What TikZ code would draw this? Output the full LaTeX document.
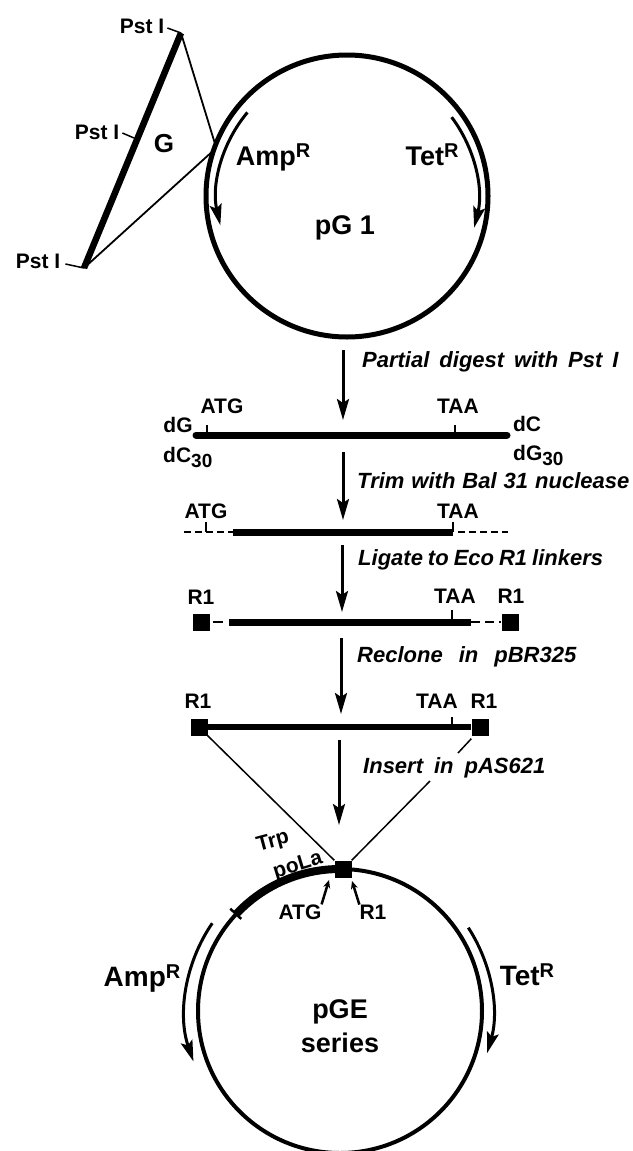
\documentclass[tikz,border=0pt]{standalone}
\usepackage{fontspec}
\setmainfont{Liberation Sans}
\usetikzlibrary{arrows.meta, calc}
\newcommand{\supr}{\raisebox{8pt}{\fontsize{20}{20}\selectfont R}}
\newcommand{\subn}[1]{\raisebox{-5pt}{\fontsize{19}{19}\selectfont #1}}

\begin{document}
\begin{tikzpicture}[
        x=1pt, y=-1pt,
        >={Stealth[length=21pt, width=12pt, inset=4pt]},
        font=\fontsize{21}{23}\selectfont\bfseries,
        plasmid/.style={circle, draw=black, line width=5pt, inner sep=0pt, fill=none},
        lbl/.style={inner sep=0pt, align=center},
        biglbl/.style={inner sep=0pt, align=center, font=\fontsize{26}{28}\selectfont\bfseries},
        steplbl/.style={inner sep=0pt, anchor=west, font=\fontsize{22}{24}\selectfont\bfseries\itshape},
        flow/.style={->, draw=black, line width=3pt},
        gene/.style={->, draw=black, line width=3pt},
        thin/.style={draw=black, line width=1.8pt},
        thinner/.style={draw=black, line width=1.5pt},
        bar/.style={draw=black, line width=7pt, line cap=round},
        dashbar/.style={draw=black, line width=2.6pt, dash pattern=on 7pt off 4pt},
        tick/.style={draw=black, line width=1.5pt},
        site/.style={rectangle, fill=black, inner sep=0pt, minimum size=17pt},
        pointer/.style={{Stealth[length=8pt, width=7pt]}-, draw=black, line width=2.5pt}
    ]
    \path[use as bounding box, clip] (0,0) rectangle (632,1151);

    % Parent plasmid and G insert
    \node[plasmid, minimum size=282pt] (pgone) at (347,196) {};
    \node[biglbl, font=\fontsize{27}{28}\selectfont\bfseries] (pgonelbl) at (345,228) {pG 1};
    \node[biglbl, anchor=base, font=\fontsize{27}{28}\selectfont\bfseries] (ampone) at (273,165) {Amp\supr};
    \node[biglbl, anchor=base, font=\fontsize{27}{28}\selectfont\bfseries] (tetone) at (432,165) {Tet\supr};

    \coordinate (gtop) at (181,33);
    \coordinate (gbot) at (84,268);
    \coordinate (gmid) at (134,138);
    \coordinate (gjoina) at (216,147);
    \coordinate (gjoinb) at (214,150);
    \node[lbl] (psttop) at (142,26) {Pst I};
    \node[lbl] (pstmid) at (97,132) {Pst I};
    \node[lbl] (pstbot) at (38,261) {Pst I};
    \node[biglbl] (glbl) at (164,144) {G};

    \draw[bar, line width=6.5pt, line cap=butt] (gtop) -- (gbot);
    \draw[thin] (gtop) -- (gjoina);
    \draw[thin] (gbot) -- (gjoinb);
    \draw[tick] (psttop.east) ++(3,2) coordinate (ptop) -- (gtop);
    \draw[tick] (pstmid.east) ++(3,1) coordinate (pmid) -- (gmid);
    \draw[tick] (pstbot.east) ++(5,3) coordinate (pbot) -- (gbot);

    \draw[gene] ($(pgone.center)+(140:130pt)$) arc[start angle=140, end angle=193, radius=130pt];
    \draw[gene] ($(pgone.center)+(37:131pt)$) arc[start angle=37, end angle=-14, radius=131pt];

    % Fragment rows
    \coordinate (rowa) at (196,435);
    \coordinate (rowb) at (507,435);
    \draw[bar] (rowa) -- (rowb);
    \node[lbl] (atga) at (222,406) {ATG};
    \node[lbl] (taaa) at (458,406) {TAA};
    \node[lbl] (dga) at (178,425) {dG};
    \node[lbl] (dca) at (527,424) {dC};
    \node[lbl, anchor=base west] (dcb) at (163,462) {dC\subn{30}};
    \node[lbl, anchor=base west] (dgb) at (513,460) {dG\subn{30}};
    \coordinate (ticka) at (207,425);
    \coordinate (tickb) at (455,425);
    \draw[tick] (ticka) -- (ticka |- rowa);
    \draw[tick] (tickb) -- (tickb |- rowb);

    \coordinate (rowc) at (184,532);
    \coordinate (rowd) at (233,532);
    \coordinate (rowe) at (453,532);
    \coordinate (rowf) at (458,532);
    \coordinate (rowg) at (508,532);
    \draw[dashbar] (rowc) -- (rowd);
    \draw[bar, line cap=butt] (rowd) -- (rowe);
    \draw[dashbar] (rowf) -- (rowg);
    \node[lbl] (atgb) at (206,511) {ATG};
    \node[lbl] (taab) at (458,511) {TAA};
    \coordinate (tickc) at (206,522);
    \coordinate (tickd) at (453,522);
    \draw[tick] (tickc) -- (tickc |- rowc);
    \draw[tick] (tickd) -- (tickd |- rowe);

    \node[site] (sitea) at (201,622) {};
    \node[site] (siteb) at (510,622) {};
    \coordinate (rowh) at (229,622);
    \coordinate (rowi) at (471,622);
    \draw[bar, line cap=butt] (rowh) -- (rowi);
    \draw[dashbar, dash pattern=on 10pt off 5pt] (sitea.east) ++(3,0) coordinate (rowj) -- ++(10,0) coordinate (rowk);
    \draw[dashbar, dash pattern=on 9pt off 5pt] (rowi) -- (siteb.west);
    \node[lbl] (rone) at (201,597) {R1};
    \node[lbl] (rtwo) at (511,596) {R1};
    \node[lbl] (taac) at (455,596) {TAA};
    \coordinate (ticke) at (452,610);
    \draw[tick] (ticke) -- (ticke |- rowh);

    \node[site] (sitec) at (199,727) {};
    \node[site] (sited) at (480,727) {};
    \draw[bar, line width=6pt, line cap=butt] (sitec) -- (sited);
    \node[lbl] (rthree) at (198,701) {R1};
    \node[lbl] (rfour) at (484,701) {R1};
    \node[lbl] (taad) at (437,701) {TAA};
    \coordinate (tickf) at (452,717);
    \draw[tick] (tickf) -- (tickf |- sited);

    % Expression plasmid
    \node[plasmid, minimum size=284pt, line width=4pt] (pge) at (340,1011) {};
    \node[site] (sitee) at (343,869) {};
    \draw[draw=black, line width=8pt] ($(pge.center)+(137:142pt)$) arc[start angle=137, end angle=90, radius=142pt];
    \draw[tick, line width=2.5pt] ($(pge.center)+(137:135pt)$) coordinate (pa) -- ($(pge.center)+(137:150pt)$) coordinate (pb);
    \node[biglbl, anchor=base, font=\fontsize{28}{28}\selectfont\bfseries] (amptwo) at (142,986) {Amp\supr};
    \node[biglbl, anchor=base, font=\fontsize{28}{28}\selectfont\bfseries] (tettwo) at (527,985) {Tet\supr};
    \node[biglbl, font=\fontsize{27}{28}\selectfont\bfseries] (pgelbl) at (340,1012) {pGE};
    \node[biglbl, font=\fontsize{27}{28}\selectfont\bfseries] (serieslbl) at (340,1043) {series};
    \node[lbl] (atgc) at (300,912) {ATG};
    \node[lbl] (rfive) at (373,912) {R1};
    \node[lbl, rotate=15] (trp) at (273,842) {Trp};
    \node[lbl, rotate=17] (pola) at (298,866) {poLa};
    \draw[pointer] (329,880) coordinate (patg) -- (atgc.north east);
    \draw[pointer] (352,881) coordinate (pone) -- (rfive.north west);

    \draw[gene] ($(pge.center)+(145.5:155pt)$) arc[start angle=145.5, end angle=199, radius=155pt];
    \draw[gene] ($(pge.center)+(33:153pt)$) arc[start angle=33, end angle=-16, radius=153pt];

    % Insertion lines
    \coordinate (breaka) at (458,753);
    \coordinate (breakb) at (430,781);
    \draw[thinner] (sitec.south east) -- (sitee.north west);
    \draw[thinner] (sited.south west) ++(0,3) coordinate (breakc) -- (breaka);
    \draw[thinner] (breakb) -- (sitee.north east);

    % Steps
    \coordinate (sa) at (343,350); \coordinate (ea) at (343,420);
    \coordinate (sb) at (343,452); \coordinate (eb) at (343,520);
    \coordinate (sc) at (342,545); \coordinate (ec) at (342,612);
    \coordinate (sd) at (341,638); \coordinate (ed) at (341,714);
    \coordinate (se) at (339,740); \coordinate (ee) at (339,825);
    \draw[flow] (sa) -- (ea);
    \draw[flow] (sb) -- (eb);
    \draw[flow] (sc) -- (ec);
    \draw[flow] (sd) -- (ed);
    \draw[flow] (se) -- (ee);
    \node[steplbl] (stepa) at (362,362) {\spaceskip=10pt Partial digest with Pst I};
    \node[steplbl] (stepb) at (357,481) {\spaceskip=7pt Trim with Bal 31 nuclease};
    \node[steplbl] (stepc) at (358,560) {\spaceskip=5pt Ligate to Eco R1 linkers};
    \node[steplbl] (stepd) at (357,657) {\spaceskip=16pt Reclone in pBR325};
    \node[steplbl] (stepe) at (363,768) {\spaceskip=11pt Insert in pAS621};

    \end{tikzpicture}
\end{document}
